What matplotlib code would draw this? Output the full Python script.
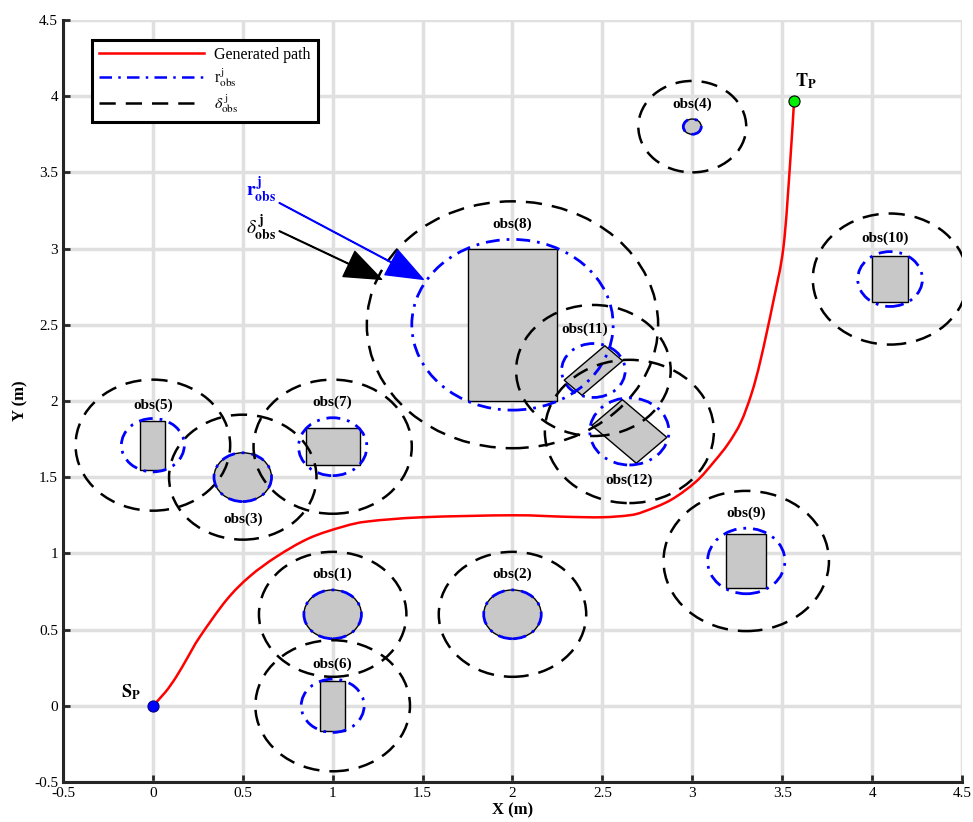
import matplotlib
matplotlib.use("Agg")
import matplotlib.pyplot as plt
from matplotlib.patches import Circle, Rectangle, PathPatch
from matplotlib.path import Path
from matplotlib.transforms import Affine2D
import numpy as np

plt.rcParams['font.family'] = ['Liberation Serif', 'DejaVu Serif']
plt.rcParams['mathtext.fontset'] = 'stix'

# Generated path (x, y) in metres
path_x = [0.0, 0.07, 0.13, 0.19, 0.26, 0.41, 0.54, 0.69, 0.87, 1.06,
          1.20, 1.50, 2.00, 2.30, 2.50, 2.65, 2.73, 2.88, 3.02, 3.12, 3.20, 3.27,
          3.33, 3.38, 3.45, 3.507, 3.544, 3.566]
path_y = [0.0, 0.09, 0.19, 0.31, 0.45, 0.695, 0.85, 0.98, 1.10, 1.176,
          1.21, 1.237, 1.25, 1.24, 1.237, 1.25, 1.274, 1.35, 1.47, 1.60, 1.72, 1.86,
          2.05, 2.27, 2.65, 3.01, 3.56, 3.97]

start_pt = (0.0, 0.0)
target_pt = (3.566, 3.97)

# Circular obstacles: name, centre x, centre y, radius, safety radius
circ_names = ['obs(1)', 'obs(2)', 'obs(3)', 'obs(4)']
circ_cx = [1.0, 2.0, 0.5, 3.0]
circ_cy = [0.6, 0.6, 1.5, 3.8]
circ_r = [0.16, 0.16, 0.16, 0.05]
circ_delta = [0.41, 0.41, 0.41, 0.30]
circ_label_xy = [(1.0, 0.86), (2.0, 0.86), (0.5, 1.225), (3.0, 3.95)]

# Rectangular obstacles: centre, width, height, rotation (deg), r_obs, delta_obs
rect_names = ['obs(5)', 'obs(6)', 'obs(7)', 'obs(8)', 'obs(9)', 'obs(10)', 'obs(11)', 'obs(12)']
rect_cx = [0.0, 1.0, 1.0, 2.0, 3.3, 4.1, 2.45, 2.65]
rect_cy = [1.71, 0.0, 1.70, 2.5, 0.95, 2.8, 2.2, 1.8]
rect_w = [0.14, 0.14, 0.30, 0.50, 0.22, 0.20, 0.32, 0.35]
rect_h = [0.32, 0.33, 0.24, 1.00, 0.36, 0.30, 0.14, 0.24]
rect_angle = [0, 0, 0, 0, 0, 0, 45, -45]
rect_r = [0.175, 0.175, 0.19, 0.56, 0.215, 0.18, 0.177, 0.22]
rect_delta = [0.43, 0.43, 0.44, 0.81, 0.46, 0.43, 0.43, 0.47]
rect_label_xy = [(0.0, 1.97), (1.0, 0.27), (1.0, 1.99), (2.0, 3.16), (3.3, 1.26),
                 (4.07, 3.07), (2.40, 2.47), (2.65, 1.48)]

ticks = [-0.5, 0, 0.5, 1, 1.5, 2, 2.5, 3, 3.5, 4, 4.5]
tick_labels = ['-0.5', '0', '0.5', '1', '1.5', '2', '2.5', '3', '3.5', '4', '4.5']


def smooth_path(xs, ys):
    """Cubic Bezier path through the given vertices (Catmull-Rom tangents)."""
    p = np.column_stack([xs, ys])
    n = len(p)
    verts = [p[0]]
    codes = [Path.MOVETO]
    for i in range(n - 1):
        p0 = p[i - 1] if i > 0 else p[i]
        p1, p2 = p[i], p[i + 1]
        p3 = p[i + 2] if i + 2 < n else p[i + 1]
        c1 = p1 + (p2 - p0) / 6.0
        c2 = p2 - (p3 - p1) / 6.0
        verts += [c1, c2, p2]
        codes += [Path.CURVE4] * 3
    return Path(verts, codes)


fig = plt.figure(figsize=(9.73, 8.22), dpi=100)
ax = fig.add_axes([0.0647, 0.0487, 0.9240, 0.9270])
ax.set_xlim(-0.5, 4.5)
ax.set_ylim(-0.5, 4.5)

grey = '#c8c8c8'
dash_style = (0, (6.5, 4))
dashdot_style = (0, (5, 2.5, 1, 2.5))

# obstacle bodies
for cx, cy, r in zip(circ_cx, circ_cy, circ_r):
    ax.add_patch(Circle((cx, cy), r, facecolor=grey, edgecolor='black', lw=1.0, zorder=2))
for cx, cy, w, h, a in zip(rect_cx, rect_cy, rect_w, rect_h, rect_angle):
    rect = Rectangle((cx - w / 2, cy - h / 2), w, h, facecolor=grey, edgecolor='black',
                     lw=1.0, zorder=2)
    rect.set_transform(Affine2D().rotate_deg_around(cx, cy, a) + ax.transData)
    ax.add_patch(rect)

# r_obs and delta_obs circles
all_cx = circ_cx + rect_cx
all_cy = circ_cy + rect_cy
all_r = circ_r + rect_r
all_d = circ_delta + rect_delta
for cx, cy, r, d in zip(all_cx, all_cy, all_r, all_d):
    ax.add_patch(Circle((cx, cy), r, fill=False, edgecolor='blue', lw=2.0,
                        linestyle=dashdot_style, zorder=3))
    ax.add_patch(Circle((cx, cy), d, fill=False, edgecolor='black', lw=1.8,
                        linestyle=dash_style, zorder=3))

# obstacle labels
for name, (lx, ly) in zip(circ_names + rect_names, circ_label_xy + rect_label_xy):
    ax.text(lx, ly, name, ha='center', va='center', fontsize=11, fontweight='bold', zorder=6)

# path
ax.add_patch(PathPatch(smooth_path(path_x, path_y), fill=False, edgecolor='red',
                       lw=1.8, zorder=5))
ax.plot([], [], color='red', lw=1.8, label='Generated path')
ax.plot([], [], color='blue', lw=1.8, linestyle=dashdot_style,
        label=r'r$_{\rm obs}^{\,\rm j}$')
ax.plot([], [], color='black', lw=1.8, linestyle=dash_style,
        label=r'$\delta_{\rm obs}^{\,\rm j}$')

ax.plot(*start_pt, 'o', ms=8, mfc='blue', mec='#000080', mew=0.8, zorder=7)
ax.plot(*target_pt, 'o', ms=8, mfc='#00ee00', mec='black', mew=0.8, zorder=7)
ax.text(-0.12, 0.09, r'$\mathbf{S_P}$', ha='center', va='center', fontsize=13, zorder=7)
ax.text(3.63, 4.1, r'$\mathbf{T_P}$', ha='center', va='center', fontsize=13, zorder=7)

# annotation arrows
ax.annotate('', xy=(1.504, 2.798), xytext=(0.703, 3.30),
            arrowprops=dict(facecolor='blue', edgecolor='blue', width=0.5, headwidth=20,
                            headlength=26, shrink=0.0), zorder=6)
ax.annotate('', xy=(1.272, 2.798), xytext=(0.703, 3.115),
            arrowprops=dict(facecolor='black', edgecolor='black', width=0.5, headwidth=20,
                            headlength=26, shrink=0.0), zorder=6)
ax.text(0.60, 3.38, r'$\mathbf{r}_{\mathbf{obs}}^{\,\mathbf{j}}$', color='blue', fontsize=14,
        ha='center', va='center', zorder=7)
ax.text(0.60, 3.13, r'$\delta_{\mathbf{obs}}^{\,\mathbf{j}}$', color='black', fontsize=14,
        ha='center', va='center', zorder=7)

# axes styling
ax.set_xticks(ticks)
ax.set_xticklabels(tick_labels)
ax.set_yticks(ticks)
ax.set_yticklabels(tick_labels)
ax.grid(True, color='#e0e0e0', lw=2.5, zorder=0)
ax.set_axisbelow(True)
for s in ['top', 'right']:
    ax.spines[s].set_visible(False)
for s in ['left', 'bottom']:
    ax.spines[s].set_linewidth(2.2)
    ax.spines[s].set_color('#262626')
ax.tick_params(direction='in', length=5, width=2, color='#262626', labelsize=11,
               labelcolor='black')
ax.set_xlabel('X (m)', fontsize=12, fontweight='bold', labelpad=2)
ax.set_ylabel('Y (m)', fontsize=12, fontweight='bold', labelpad=4)

leg = ax.legend(loc='upper left', bbox_to_anchor=(0.032, 0.974), borderaxespad=0,
                fontsize=11.5, handlelength=6.6, handletextpad=0.6, fancybox=False,
                framealpha=1, edgecolor='black', borderpad=0.45, labelspacing=0.2)
leg.get_frame().set_linewidth(2.2)

fig.savefig('out.png', dpi=100)
